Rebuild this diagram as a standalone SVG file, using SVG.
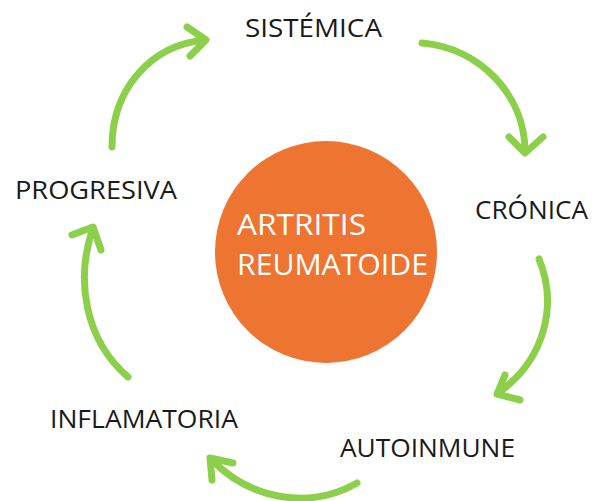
<svg xmlns="http://www.w3.org/2000/svg" width="593" height="501" viewBox="0 0 593 501">
  <style>
    .arrow { fill: none; stroke: #8CCF4B; stroke-width: 7; stroke-linecap: round; stroke-linejoin: round; }
    .label { font-family: "Open Sans", "Liberation Sans", sans-serif; font-size: 26px; fill: #1a1a1a; }
    .center { font-family: "Open Sans", "Liberation Sans", sans-serif; font-size: 30px; fill: #ffffff; }
  </style>
  <rect width="593" height="501" fill="#ffffff"/>

  <g id="center">
    <circle cx="326" cy="252" r="111" fill="#EE7431"/>
    <text class="center" x="237" y="235" textLength="129" lengthAdjust="spacingAndGlyphs">ARTRITIS</text>
    <text class="center" x="237" y="275" textLength="191" lengthAdjust="spacingAndGlyphs">REUMATOIDE</text>
  </g>

  <g id="sistemica"><text class="label" x="245" y="37" textLength="137" lengthAdjust="spacingAndGlyphs">SISTÉMICA</text></g>
  <g id="cronica"><text class="label" x="475" y="219" textLength="113" lengthAdjust="spacingAndGlyphs">CRÓNICA</text></g>
  <g id="autoinmune"><text class="label" x="340" y="457" textLength="175" lengthAdjust="spacingAndGlyphs">AUTOINMUNE</text></g>
  <g id="inflamatoria"><text class="label" x="50" y="428" textLength="188" lengthAdjust="spacingAndGlyphs">INFLAMATORIA</text></g>
  <g id="progresiva"><text class="label" x="15" y="199" textLength="162" lengthAdjust="spacingAndGlyphs">PROGRESIVA</text></g>

  <g id="connectors">
    <path class="arrow" d="M112,147 C112,90 150,45 205,40"/>
    <polyline class="arrow" points="187,27 206,40 190,56"/>

    <path class="arrow" d="M422,43 C480,48 525,95 525,152"/>
    <polyline class="arrow" points="509,137 525,153 543,137"/>

    <path class="arrow" d="M539,259 C558,305 545,360 498,393"/>
    <polyline class="arrow" points="505,375 497,394 520,400"/>

    <path class="arrow" d="M357,483 C310,510 250,500 211,459"/>
    <polyline class="arrow" points="212,480 210,458 233,463"/>

    <path class="arrow" d="M128,377 C85,340 75,280 93,228"/>
    <polyline class="arrow" points="72,235 93,227 101,250"/>
  </g>
</svg>
